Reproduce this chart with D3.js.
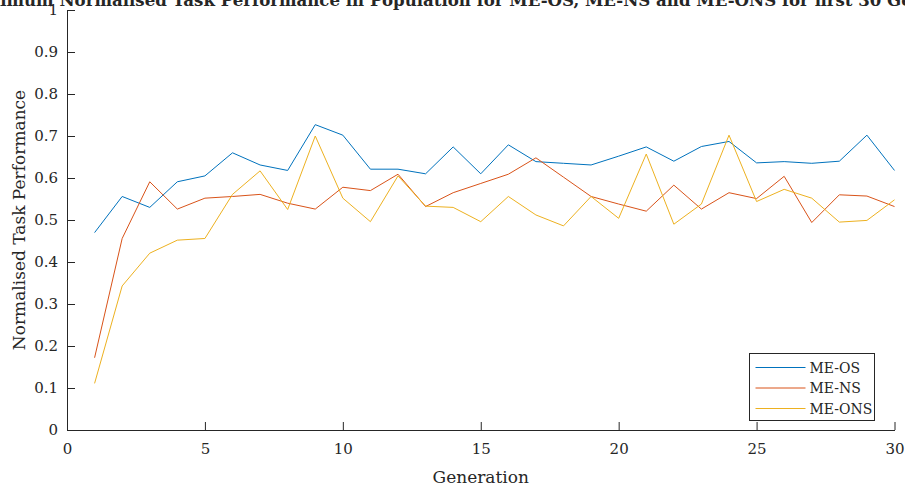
<!DOCTYPE html>
<html>
<head>
<meta charset="utf-8">
<script src="https://cdn.jsdelivr.net/npm/d3@7"></script>
<style>
  body { margin: 0; background: #fff; }
  svg { display: block; }
  text { font-family: "DejaVu Serif", serif; fill: #262626; }
</style>
</head>
<body>
<svg id="chart" width="905" height="488"></svg>
<script>
const generations = d3.range(1, 31);
const meOS = [0.470, 0.556, 0.530, 0.591, 0.605, 0.660, 0.631, 0.618, 0.727, 0.702,
              0.621, 0.621, 0.610, 0.674, 0.610, 0.679, 0.639, 0.635, 0.631, 0.652,
              0.674, 0.640, 0.675, 0.687, 0.636, 0.639, 0.635, 0.640, 0.702, 0.618];
const meNS = [0.172, 0.456, 0.591, 0.526, 0.552, 0.556, 0.561, 0.540, 0.526, 0.578,
              0.570, 0.609, 0.532, 0.565, 0.587, 0.609, 0.648, 0.602, 0.556, 0.538,
              0.521, 0.583, 0.526, 0.565, 0.551, 0.604, 0.494, 0.560, 0.557, 0.532];
const meONS = [0.111, 0.343, 0.421, 0.452, 0.456, 0.561, 0.617, 0.525, 0.700, 0.552,
               0.496, 0.605, 0.533, 0.530, 0.496, 0.556, 0.512, 0.486, 0.556, 0.504,
               0.657, 0.490, 0.538, 0.702, 0.544, 0.573, 0.552, 0.495, 0.499, 0.548];
const seriesNames = ["ME-OS", "ME-NS", "ME-ONS"];
const seriesColors = ["#0072BD", "#D95319", "#EDB120"];
const xTicks = [0, 5, 10, 15, 20, 25, 30];
const yTicks = [0, 0.1, 0.2, 0.3, 0.4, 0.5, 0.6, 0.7, 0.8, 0.9, 1];
const titleText = "Maximum Normalised Task Performance in Population for ME-OS, ME-NS and ME-ONS for first 30 Generations";

const svg = d3.select("#chart");
const x = d3.scaleLinear().domain([0, 30]).range([67, 894.5]);
const y = d3.scaleLinear().domain([0, 1]).range([430, 10]);
const axisColor = "#262626";

// X axis
const gx = svg.append("g").attr("transform", `translate(0,${y(0)})`)
  .call(d3.axisBottom(x).tickValues(xTicks).tickSizeInner(-8).tickSizeOuter(0).tickPadding(13).tickFormat(d3.format("d")));
// Y axis
const gy = svg.append("g").attr("transform", `translate(${x(0)},0)`)
  .call(d3.axisLeft(y).tickValues(yTicks).tickSizeInner(-8).tickSizeOuter(0).tickPadding(9)
    .tickFormat(d => d === 0 || d === 1 ? d3.format("d")(d) : d3.format(".1f")(d)));
[gx, gy].forEach(g => {
  g.select(".domain").attr("stroke", axisColor).attr("stroke-width", 1);
  g.selectAll(".tick line").attr("stroke", axisColor).attr("stroke-width", 1);
  g.selectAll(".tick text").attr("fill", axisColor).style("font-family", '"DejaVu Serif", serif').style("font-size", "15px");
});

// Lines
const data = [meOS, meNS, meONS];
const line = d3.line().x((d, i) => x(generations[i])).y(d => y(d));
data.forEach((vals, k) => {
  svg.append("path").datum(vals)
    .attr("fill", "none").attr("stroke", seriesColors[k]).attr("stroke-width", 1)
    .attr("d", line);
});

// Axis labels
svg.append("text").attr("x", (x(0) + x(30)) / 2).attr("y", 483)
  .attr("text-anchor", "middle").style("font-size", "17px").text("Generation");
svg.append("text").attr("transform", `translate(25,${y(0.5)}) rotate(-90)`)
  .attr("text-anchor", "middle").style("font-size", "17px").text("Normalised Task Performance");

// Title
svg.append("text").attr("x", (x(0) + x(30)) / 2).attr("y", 6)
  .attr("text-anchor", "middle").style("font-size", "16.6px").style("font-weight", "bold")
  .attr("fill", "#000").text(titleText);

// Legend
const lg = svg.append("g").attr("transform", "translate(749.5,353.5)");
lg.append("rect").attr("width", 125).attr("height", 67)
  .attr("fill", "#fff").attr("stroke", axisColor).attr("stroke-width", 1);
seriesNames.forEach((name, k) => {
  const yy = 14 + k * 20.5;
  lg.append("line").attr("x1", 6).attr("x2", 56).attr("y1", yy).attr("y2", yy)
    .attr("stroke", seriesColors[k]).attr("stroke-width", 1);
  lg.append("text").attr("x", 60).attr("y", yy + 5).style("font-size", "14px").text(name);
});
</script>
</body>
</html>
